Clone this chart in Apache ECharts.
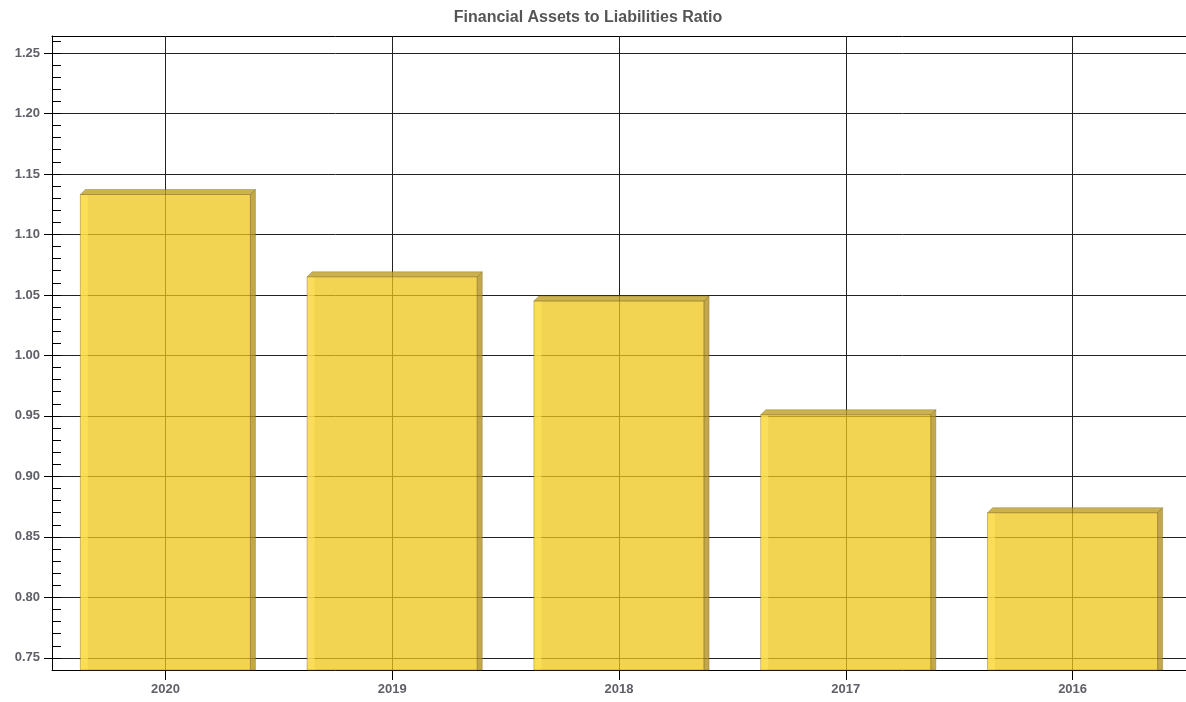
<!DOCTYPE html>
<html>
<head>
<meta charset="utf-8">
<title>Financial Assets to Liabilities Ratio</title>
<script src="https://cdn.jsdelivr.net/npm/echarts@6/dist/echarts.min.js"></script>
<style>
  html, body { margin: 0; padding: 0; background: #ffffff; overflow: hidden; }
  #chart { width: 1186px; height: 702px; }
</style>
</head>
<body>
<div id="chart"></div>
<script>
// Fiscal years and the ratio of financial assets to liabilities
const years = ['2020', '2019', '2018', '2017', '2016'];
const ratios = [1.133, 1.065, 1.045, 0.951, 0.870];

// Labelled value-axis ticks
const yTickValues = [0.75, 0.80, 0.85, 0.90, 0.95, 1.00, 1.05, 1.10, 1.15, 1.20, 1.25];
const yMin = 0.74;
const yMax = 1.264;

const FONT = '"Liberation Sans", Arial, sans-serif';
const DEPTH = 5;

const chart = echarts.init(document.getElementById('chart'), null, { renderer: 'canvas' });

// Box-shaped bar: translucent front face, lighter left bevel, top face and right side face
function renderBox(params, api) {
  const idx = api.value(0);
  const val = api.value(1);
  const top = api.coord([idx, val]);
  const base = api.coord([idx, yMin]);
  const bw = api.size([1, 0])[0] * 0.75;
  const x0 = top[0] - bw / 2;
  const x1 = top[0] + bw / 2;
  const y0 = top[1];
  const y1 = base[1];
  const d = DEPTH;
  return {
    type: 'group',
    children: [
      {
        type: 'polygon',
        shape: { points: [[x0, y0], [x0 + d, y0 - d], [x1 + d, y0 - d], [x1 + d, y1], [x0, y1]] },
        style: { fill: 'rgba(255,255,255,0.01)', shadowBlur: 4, shadowColor: 'rgba(0,0,0,0.28)' },
        silent: true
      },
      {
        type: 'rect',
        shape: { x: x0, y: y0, width: bw, height: y1 - y0 },
        style: { fill: 'rgba(238,196,22,0.74)', stroke: 'rgba(140,110,20,0.45)', lineWidth: 1 }
      },
      {
        type: 'rect',
        shape: { x: x0 + 0.5, y: y0 + 0.5, width: 7, height: y1 - y0 - 1 },
        style: { fill: 'rgba(255,228,90,0.65)' }
      },
      {
        type: 'polygon',
        shape: { points: [[x0, y0], [x0 + d, y0 - d], [x1 + d, y0 - d], [x1, y0]] },
        style: { fill: 'rgba(190,155,30,0.78)', stroke: 'rgba(120,100,40,0.45)', lineWidth: 0.8 }
      },
      {
        type: 'polygon',
        shape: { points: [[x1, y0], [x1 + d, y0 - d], [x1 + d, y1], [x1, y1]] },
        style: { fill: 'rgba(180,145,30,0.8)', stroke: 'rgba(120,100,40,0.45)', lineWidth: 0.8 }
      }
    ]
  };
}

const option = {
  backgroundColor: '#ffffff',
  animation: false,
  title: {
    text: 'Financial Assets to Liabilities Ratio',
    left: 583,
    top: 5,
    textAlign: 'center',
    textStyle: { fontFamily: FONT, fontSize: 16, fontWeight: 'bold', color: '#555555' }
  },
  grid: { left: 52, right: 0, top: 36, bottom: 32, containLabel: false },
  xAxis: [
    {
      type: 'category',
      data: years,
      boundaryGap: true,
      axisLine: { show: true, lineStyle: { color: '#000000', width: 1 } },
      axisTick: { show: true, alignWithLabel: true, length: 10, lineStyle: { color: '#000000' } },
      axisLabel: { margin: 13, fontFamily: FONT, fontSize: 13, fontWeight: 'bold', color: '#5f6068' },
      splitLine: { show: false }
    },
    {
      // frame line along the top of the plot
      type: 'category',
      data: years,
      position: 'top',
      axisLine: { show: true, lineStyle: { color: '#000000', width: 1 } },
      axisTick: { show: false },
      axisLabel: { show: false },
      splitLine: { show: false }
    }
  ],
  yAxis: [
    {
      type: 'value',
      min: yMin,
      max: yMax,
      splitNumber: 10,
      axisLine: { show: true, lineStyle: { color: '#000000', width: 1 } },
      axisTick: { show: true, inside: false, length: 8, customValues: yTickValues, lineStyle: { color: '#000000' } },
      axisLabel: {
        margin: 12,
        customValues: yTickValues,
        fontFamily: FONT, fontSize: 13, fontWeight: 'bold', color: '#5f6068',
        formatter: (v) => v.toFixed(2)
      },
      splitLine: { show: true, lineStyle: { color: '#222222', width: 1 } }
    },
    {
      // fine inner ticks every 0.01
      type: 'value',
      min: yMin,
      max: yMax,
      interval: 0.01,
      position: 'left',
      axisLine: { show: false },
      axisTick: { show: true, inside: true, length: 9, lineStyle: { color: '#000000' } },
      axisLabel: { show: false },
      splitLine: { show: false }
    }
  ],
  series: [
    {
      // vertical grid lines through each year's centre
      type: 'line',
      name: 'year lines',
      data: [],
      z: 1,
      silent: true,
      markLine: {
        z: 1,
        silent: true,
        symbol: ['none', 'none'],
        label: { show: false },
        lineStyle: { color: '#222222', width: 1, type: 'solid' },
        emphasis: { disabled: true },
        data: years.map((y) => ({ xAxis: y }))
      }
    },
    {
      type: 'custom',
      name: 'Ratio',
      renderItem: renderBox,
      clip: false,
      encode: { x: 0, y: 1 },
      data: ratios.map((v, i) => [i, v]),
      z: 3
    }
  ]
};

chart.setOption(option);
</script>
</body>
</html>
